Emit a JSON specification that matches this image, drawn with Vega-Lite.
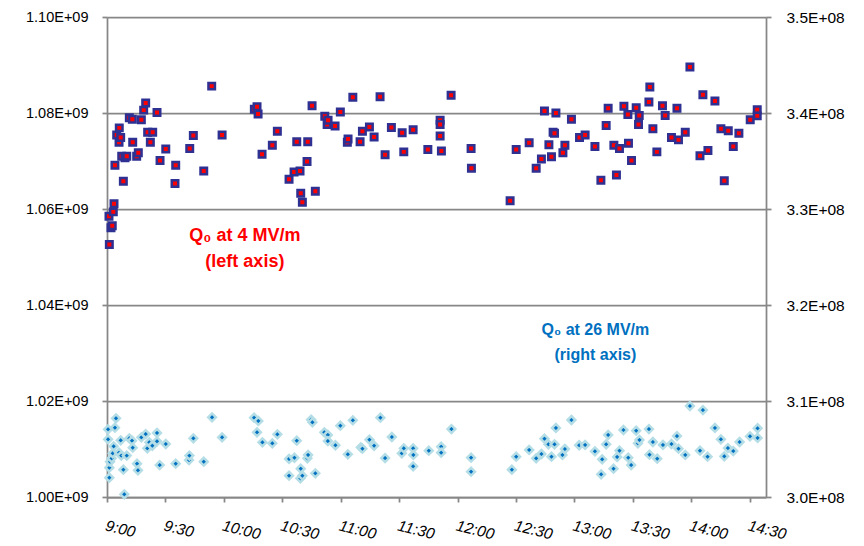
{
  "$schema": "https://vega.github.io/schema/vega-lite/v6.json",
  "autosize": "none",
  "width": 659,
  "height": 480,
  "padding": {"left": 107, "top": 17, "right": 98, "bottom": 49},
  "background": "#ffffff",
  "config": {
    "view": {"stroke": null},
    "font": "Liberation Sans",
    "axis": {
      "labelFont": "Liberation Sans",
      "labelColor": "#000000",
      "domainColor": "#878787",
      "domainWidth": 1.75,
      "tickColor": "#878787",
      "tickWidth": 1.75,
      "tickSize": 5,
      "gridColor": "#878787",
      "gridWidth": 1.75,
      "title": null
    }
  },
  "datasets": {
    "q4": [
      {"time": 9.017, "q0": 1058500000}, {"time": 9.020, "q0": 1052600000}, {"time": 9.034, "q0": 1056100000},
      {"time": 9.045, "q0": 1056500000}, {"time": 9.054, "q0": 1059400000}, {"time": 9.060, "q0": 1061100000},
      {"time": 9.068, "q0": 1069100000}, {"time": 9.083, "q0": 1075400000}, {"time": 9.103, "q0": 1073900000},
      {"time": 9.105, "q0": 1076900000}, {"time": 9.117, "q0": 1074900000}, {"time": 9.126, "q0": 1071000000},
      {"time": 9.140, "q0": 1065800000}, {"time": 9.154, "q0": 1070700000}, {"time": 9.169, "q0": 1071000000},
      {"time": 9.191, "q0": 1079000000}, {"time": 9.217, "q0": 1078700000}, {"time": 9.220, "q0": 1073900000},
      {"time": 9.254, "q0": 1071000000}, {"time": 9.268, "q0": 1071700000}, {"time": 9.294, "q0": 1078600000},
      {"time": 9.314, "q0": 1080600000}, {"time": 9.331, "q0": 1082100000}, {"time": 9.348, "q0": 1076000000},
      {"time": 9.371, "q0": 1073900000}, {"time": 9.391, "q0": 1076000000}, {"time": 9.428, "q0": 1080100000},
      {"time": 9.454, "q0": 1070100000}, {"time": 9.503, "q0": 1072500000}, {"time": 9.582, "q0": 1065300000},
      {"time": 9.588, "q0": 1069100000}, {"time": 9.708, "q0": 1072600000}, {"time": 9.739, "q0": 1075300000},
      {"time": 9.828, "q0": 1067900000}, {"time": 9.896, "q0": 1085600000}, {"time": 9.985, "q0": 1075400000},
      {"time": 10.261, "q0": 1080800000}, {"time": 10.284, "q0": 1081300000}, {"time": 10.293, "q0": 1079800000},
      {"time": 10.327, "q0": 1071400000}, {"time": 10.415, "q0": 1073300000}, {"time": 10.458, "q0": 1076200000},
      {"time": 10.558, "q0": 1066200000}, {"time": 10.601, "q0": 1067700000}, {"time": 10.624, "q0": 1074000000},
      {"time": 10.652, "q0": 1067900000}, {"time": 10.658, "q0": 1063300000}, {"time": 10.672, "q0": 1061400000},
      {"time": 10.712, "q0": 1069900000}, {"time": 10.718, "q0": 1074000000}, {"time": 10.755, "q0": 1081500000},
      {"time": 10.783, "q0": 1063700000}, {"time": 10.864, "q0": 1079300000}, {"time": 10.884, "q0": 1077600000},
      {"time": 10.892, "q0": 1078500000}, {"time": 10.952, "q0": 1077300000}, {"time": 10.997, "q0": 1080200000},
      {"time": 11.057, "q0": 1073900000}, {"time": 11.063, "q0": 1074600000}, {"time": 11.104, "q0": 1083300000},
      {"time": 11.166, "q0": 1074000000}, {"time": 11.186, "q0": 1076200000}, {"time": 11.246, "q0": 1077100000},
      {"time": 11.286, "q0": 1075000000}, {"time": 11.337, "q0": 1083400000}, {"time": 11.380, "q0": 1071300000},
      {"time": 11.434, "q0": 1077000000}, {"time": 11.526, "q0": 1075900000}, {"time": 11.540, "q0": 1071900000},
      {"time": 11.620, "q0": 1076500000}, {"time": 11.746, "q0": 1072400000}, {"time": 11.851, "q0": 1078500000},
      {"time": 11.851, "q0": 1077600000}, {"time": 11.851, "q0": 1075200000}, {"time": 11.862, "q0": 1072100000},
      {"time": 11.945, "q0": 1083700000}, {"time": 12.116, "q0": 1072600000}, {"time": 12.119, "q0": 1068500000},
      {"time": 12.450, "q0": 1061700000}, {"time": 12.502, "q0": 1072400000}, {"time": 12.613, "q0": 1073800000},
      {"time": 12.673, "q0": 1068500000}, {"time": 12.718, "q0": 1070400000}, {"time": 12.744, "q0": 1080400000},
      {"time": 12.782, "q0": 1073400000}, {"time": 12.804, "q0": 1070900000}, {"time": 12.818, "q0": 1076000000},
      {"time": 12.830, "q0": 1075800000}, {"time": 12.842, "q0": 1080000000}, {"time": 12.902, "q0": 1071700000},
      {"time": 12.919, "q0": 1073300000}, {"time": 12.975, "q0": 1078700000}, {"time": 13.044, "q0": 1074900000},
      {"time": 13.092, "q0": 1075400000}, {"time": 13.176, "q0": 1073000000}, {"time": 13.227, "q0": 1066000000},
      {"time": 13.272, "q0": 1077400000}, {"time": 13.289, "q0": 1081000000}, {"time": 13.338, "q0": 1073300000},
      {"time": 13.360, "q0": 1067100000}, {"time": 13.386, "q0": 1072600000}, {"time": 13.424, "q0": 1081400000},
      {"time": 13.458, "q0": 1079700000}, {"time": 13.463, "q0": 1073700000}, {"time": 13.489, "q0": 1070100000},
      {"time": 13.529, "q0": 1081100000}, {"time": 13.549, "q0": 1077600000}, {"time": 13.555, "q0": 1079500000},
      {"time": 13.638, "q0": 1082300000}, {"time": 13.646, "q0": 1085400000}, {"time": 13.672, "q0": 1076700000},
      {"time": 13.706, "q0": 1071900000}, {"time": 13.754, "q0": 1081500000}, {"time": 13.777, "q0": 1079500000},
      {"time": 13.831, "q0": 1074900000}, {"time": 13.878, "q0": 1081000000}, {"time": 13.891, "q0": 1074400000},
      {"time": 13.949, "q0": 1076000000}, {"time": 13.989, "q0": 1089600000}, {"time": 14.075, "q0": 1071100000},
      {"time": 14.100, "q0": 1083800000}, {"time": 14.143, "q0": 1072200000}, {"time": 14.203, "q0": 1082500000},
      {"time": 14.254, "q0": 1076700000}, {"time": 14.283, "q0": 1065900000}, {"time": 14.317, "q0": 1076300000},
      {"time": 14.360, "q0": 1073000000}, {"time": 14.408, "q0": 1075800000}, {"time": 14.505, "q0": 1078600000},
      {"time": 14.565, "q0": 1080700000}, {"time": 14.565, "q0": 1079400000}
    ],
    "q26": [
      {"time": 9.009, "q0": 307050000}, {"time": 9.009, "q0": 306010000}, {"time": 9.020, "q0": 303050000},
      {"time": 9.020, "q0": 302010000}, {"time": 9.026, "q0": 303680000}, {"time": 9.040, "q0": 304030000},
      {"time": 9.049, "q0": 304550000}, {"time": 9.057, "q0": 305280000}, {"time": 9.068, "q0": 307220000},
      {"time": 9.077, "q0": 308200000}, {"time": 9.103, "q0": 304620000}, {"time": 9.117, "q0": 305900000},
      {"time": 9.122, "q0": 304310000}, {"time": 9.140, "q0": 302850000}, {"time": 9.148, "q0": 300280000},
      {"time": 9.169, "q0": 304310000}, {"time": 9.191, "q0": 306110000}, {"time": 9.214, "q0": 305870000},
      {"time": 9.220, "q0": 305140000}, {"time": 9.257, "q0": 303470000}, {"time": 9.265, "q0": 302780000},
      {"time": 9.294, "q0": 306220000}, {"time": 9.331, "q0": 306560000}, {"time": 9.345, "q0": 305070000},
      {"time": 9.362, "q0": 305700000}, {"time": 9.388, "q0": 305340000}, {"time": 9.428, "q0": 306670000},
      {"time": 9.428, "q0": 305800000}, {"time": 9.451, "q0": 303330000}, {"time": 9.503, "q0": 305520000},
      {"time": 9.588, "q0": 303470000}, {"time": 9.702, "q0": 303850000}, {"time": 9.705, "q0": 304310000},
      {"time": 9.739, "q0": 306110000}, {"time": 9.828, "q0": 303680000}, {"time": 9.899, "q0": 308300000},
      {"time": 9.985, "q0": 306220000}, {"time": 10.259, "q0": 308260000}, {"time": 10.284, "q0": 306740000},
      {"time": 10.295, "q0": 307920000}, {"time": 10.330, "q0": 305700000}, {"time": 10.415, "q0": 305590000},
      {"time": 10.458, "q0": 306530000}, {"time": 10.558, "q0": 303960000}, {"time": 10.558, "q0": 302220000},
      {"time": 10.604, "q0": 304090000}, {"time": 10.624, "q0": 305870000}, {"time": 10.655, "q0": 301950000},
      {"time": 10.658, "q0": 302950000}, {"time": 10.672, "q0": 302220000}, {"time": 10.715, "q0": 304030000},
      {"time": 10.721, "q0": 304380000}, {"time": 10.747, "q0": 308050000}, {"time": 10.758, "q0": 307780000},
      {"time": 10.783, "q0": 302470000}, {"time": 10.860, "q0": 306740000}, {"time": 10.890, "q0": 306460000},
      {"time": 10.890, "q0": 305830000}, {"time": 10.955, "q0": 305390000}, {"time": 10.997, "q0": 307430000},
      {"time": 11.061, "q0": 304450000}, {"time": 11.104, "q0": 307990000}, {"time": 11.172, "q0": 305180000},
      {"time": 11.186, "q0": 305030000}, {"time": 11.246, "q0": 305970000}, {"time": 11.286, "q0": 305340000},
      {"time": 11.340, "q0": 308260000}, {"time": 11.380, "q0": 304060000}, {"time": 11.438, "q0": 306250000},
      {"time": 11.523, "q0": 304550000}, {"time": 11.540, "q0": 305070000}, {"time": 11.620, "q0": 305070000},
      {"time": 11.622, "q0": 304380000}, {"time": 11.620, "q0": 303200000}, {"time": 11.754, "q0": 304820000},
      {"time": 11.860, "q0": 305240000}, {"time": 11.860, "q0": 304620000}, {"time": 11.948, "q0": 307080000},
      {"time": 12.116, "q0": 304100000}, {"time": 12.116, "q0": 302640000}, {"time": 12.465, "q0": 302850000},
      {"time": 12.502, "q0": 304200000}, {"time": 12.613, "q0": 304900000}, {"time": 12.673, "q0": 304030000},
      {"time": 12.718, "q0": 304480000}, {"time": 12.744, "q0": 306070000}, {"time": 12.778, "q0": 305490000},
      {"time": 12.804, "q0": 304200000}, {"time": 12.830, "q0": 305490000}, {"time": 12.842, "q0": 307190000},
      {"time": 12.898, "q0": 304380000}, {"time": 12.919, "q0": 305000000}, {"time": 12.975, "q0": 308020000},
      {"time": 13.041, "q0": 305390000}, {"time": 13.092, "q0": 305420000}, {"time": 13.176, "q0": 304760000},
      {"time": 13.229, "q0": 302360000}, {"time": 13.238, "q0": 303930000}, {"time": 13.272, "q0": 305490000},
      {"time": 13.289, "q0": 306460000}, {"time": 13.335, "q0": 302950000}, {"time": 13.366, "q0": 304170000},
      {"time": 13.386, "q0": 304820000}, {"time": 13.420, "q0": 306980000}, {"time": 13.461, "q0": 304100000},
      {"time": 13.486, "q0": 303330000}, {"time": 13.529, "q0": 306910000}, {"time": 13.544, "q0": 305590000},
      {"time": 13.557, "q0": 305940000}, {"time": 13.638, "q0": 307080000}, {"time": 13.643, "q0": 304410000},
      {"time": 13.672, "q0": 305730000}, {"time": 13.709, "q0": 303990000}, {"time": 13.758, "q0": 305420000},
      {"time": 13.831, "q0": 305520000}, {"time": 13.878, "q0": 306350000}, {"time": 13.891, "q0": 305030000},
      {"time": 13.949, "q0": 304380000}, {"time": 13.989, "q0": 309480000}, {"time": 14.075, "q0": 304820000},
      {"time": 14.100, "q0": 309060000}, {"time": 14.140, "q0": 304200000}, {"time": 14.203, "q0": 307190000},
      {"time": 14.254, "q0": 306010000}, {"time": 14.283, "q0": 304240000}, {"time": 14.314, "q0": 305100000},
      {"time": 14.360, "q0": 304790000}, {"time": 14.414, "q0": 305730000}, {"time": 14.503, "q0": 306320000},
      {"time": 14.568, "q0": 307160000}, {"time": 14.568, "q0": 306150000}
    ],
    "noteLeft": [
      {"time": 10.18, "q0": 1054300000, "label": "Q₀ at 4 MV/m"},
      {"time": 10.18, "q0": 1049000000, "label": "(left axis)"}
    ],
    "noteRight": [
      {"time": 13.18, "q0": 317400000, "label": "Q₀ at 26 MV/m"},
      {"time": 13.18, "q0": 314800000, "label": "(right axis)"}
    ]
  },
  "encoding": {
    "x": {
      "field": "time",
      "type": "quantitative",
      "scale": {"domain": [9, 14.64], "nice": false, "zero": false},
      "axis": {
        "values": [9, 9.5, 10, 10.5, 11, 11.5, 12, 12.5, 13, 13.5, 14, 14.5],
        "labelExpr": "floor(datum.value) + ':' + (datum.value % 1 ? '30' : '00')",
        "grid": false,
        "labelAngle": 14,
        "labelAlign": "left",
        "labelBaseline": "top",
        "labelFontStyle": "italic",
        "labelFontSize": 15.5,
        "labelPadding": 16,
        "labelFlush": false,
        "labelOverlap": false
      }
    }
  },
  "layer": [
    {
      "encoding": {
        "y": {
          "field": "q0",
          "type": "quantitative",
          "scale": {"domain": [1000000000, 1100000000], "nice": false, "zero": false},
          "axis": {
            "orient": "left",
            "values": [1000000000, 1020000000, 1040000000, 1060000000, 1080000000, 1100000000],
            "labelExpr": "format(datum.value / 1e9, '.2f') + 'E+09'",
            "labelFontSize": 14.5,
            "labelPadding": 14,
            "grid": true
          }
        }
      },
      "layer": [
        {
          "data": {"name": "q4"},
          "mark": {"type": "point", "shape": "square", "filled": true, "size": 42, "fill": "#ff0000", "stroke": "#2e3192", "strokeWidth": 2.5, "opacity": 1}
        },
        {
          "data": {"name": "noteLeft"},
          "mark": {"type": "text", "fontSize": 18, "fontWeight": "bold", "color": "#ff0000", "align": "center", "baseline": "middle"},
          "encoding": {"text": {"field": "label"}}
        }
      ]
    },
    {
      "encoding": {
        "y": {
          "field": "q0",
          "type": "quantitative",
          "scale": {"domain": [300000000, 350000000], "nice": false, "zero": false},
          "axis": {
            "orient": "right",
            "values": [300000000, 310000000, 320000000, 330000000, 340000000, 350000000],
            "labelExpr": "format(datum.value / 1e8, '.1f') + 'E+08'",
            "labelFontSize": 15.5,
            "labelPadding": 15,
            "grid": false
          }
        }
      },
      "layer": [
        {
          "data": {"name": "q26"},
          "mark": {"type": "point", "shape": "diamond", "filled": true, "size": 60, "fill": "#0070c0", "stroke": "#b4dde6", "strokeWidth": 2.5, "opacity": 1}
        },
        {
          "data": {"name": "noteRight"},
          "mark": {"type": "text", "fontSize": 16, "fontWeight": "bold", "color": "#0070c0", "align": "center", "baseline": "middle"},
          "encoding": {"text": {"field": "label"}}
        }
      ]
    }
  ],
  "resolve": {"scale": {"y": "independent"}}
}
